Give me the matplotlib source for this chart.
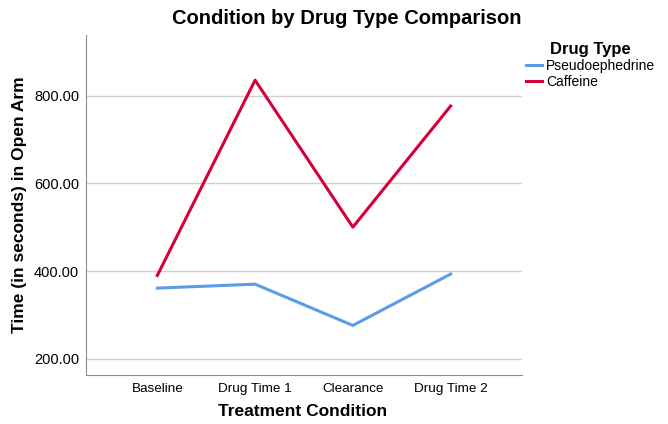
import matplotlib
matplotlib.use('Agg')
import matplotlib.pyplot as plt
from matplotlib.ticker import FormatStrFormatter

plt.rcParams['font.family'] = ['Liberation Sans', 'DejaVu Sans']

conditions = ['Baseline', 'Drug Time 1', 'Clearance', 'Drug Time 2']
pseudo = [361, 370, 276, 393]
caffeine = [390, 835, 500, 776]
y_ticks = [200, 400, 600, 800]

fig = plt.figure(figsize=(6.68, 4.24), dpi=100)
ax = fig.add_axes([0.1287, 0.1156, 0.6527, 0.8019])

x = range(len(conditions))
l1, = ax.plot(x, pseudo, color='#5B9CE6', linewidth=2.2, label='Pseudoephedrine')
l2, = ax.plot(x, caffeine, color='#D5003A', linewidth=2.2, label='Caffeine')

ax.set_xlim(-0.73, 3.73)
ax.set_ylim(163, 938)
ax.set_xticks(list(x))
ax.set_xticklabels(conditions)
ax.set_yticks(y_ticks)
ax.yaxis.set_major_formatter(FormatStrFormatter('%.2f'))
ax.tick_params(axis='y', length=0, labelsize=10.5, pad=5)
ax.tick_params(axis='x', length=0, labelsize=9.7, pad=6)
ax.grid(axis='y', color='#d0d0d0', linewidth=1)
ax.set_axisbelow(True)
ax.spines['top'].set_visible(False)
ax.spines['right'].set_visible(False)
ax.spines['left'].set_color('#8c8c8c')
ax.spines['bottom'].set_color('#8c8c8c')

fig.text(303/668, 1 - 412/424, 'Treatment Condition', fontsize=12.5, fontweight='bold',
         ha='center', va='center')
fig.text(20/668, 1 - 205/424, 'Time (in seconds) in Open Arm', fontsize=12.5,
         fontweight='bold', ha='center', va='center', rotation=90)
fig.text(347/668, 1 - 19/424, 'Condition by Drug Type Comparison', fontsize=14.5,
         fontweight='bold', ha='center', va='center')

leg = fig.legend(handles=[l1, l2], loc='upper left', bbox_to_anchor=(0.768, 0.93),
                 frameon=False, title='Drug Type', fontsize=10, handlelength=1.2,
                 handletextpad=0.3, labelspacing=0.12)
leg.get_title().set_fontweight('bold')
leg.get_title().set_fontsize(12)

fig.savefig('out.png', dpi=100)
